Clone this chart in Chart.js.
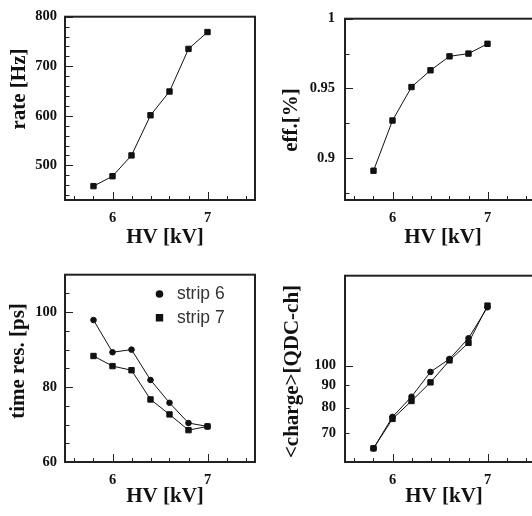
<!DOCTYPE html>
<html>
<head>
<meta charset="utf-8">
<script src="https://cdn.jsdelivr.net/npm/chart.js@4.4.1/dist/chart.umd.min.js"></script>
<style>
  html, body { margin: 0; padding: 0; background: #fff; overflow: hidden; width: 532px; height: 516px; }
  canvas { position: absolute; }
</style>
</head>
<body>
<canvas id="rateChart" width="266" height="258" style="left:0;top:0"></canvas>
<canvas id="effChart" width="280" height="258" style="left:266px;top:0"></canvas>
<canvas id="timeChart" width="266" height="258" style="left:0;top:258px"></canvas>
<canvas id="chargeChart" width="280" height="258" style="left:266px;top:258px"></canvas>
<script>
// --- datos ---
const hv = [5.8, 6.0, 6.2, 6.4, 6.6, 6.8, 7.0];
const rate = [458, 478, 520, 601, 649, 735, 769];
const eff = [0.891, 0.927, 0.951, 0.963, 0.973, 0.975, 0.982];
const timeStrip6 = [97.9, 89.3, 90.0, 81.9, 75.8, 70.4, 69.5];
const timeStrip7 = [88.3, 85.6, 84.5, 76.7, 72.7, 68.5, 69.5];
const chargeStrip6 = [64.5, 76.2, 84.8, 96.7, 103.6, 115.6, 136.2];
const chargeStrip7 = [64.5, 75.4, 82.9, 91.5, 102.8, 112.8, 137.4];

// marcas de los ejes
const hvLabels = [6, 7];
const hvMinor = [5.6, 5.8, 6.2, 6.4, 6.6, 6.8, 7.2, 7.4];
const rateLabels = [500, 600, 700, 800];
const rateMinor = [440, 460, 480, 520, 540, 560, 580, 620, 640, 660, 680, 720, 740, 760, 780];
const effLabels = [0.9, 0.95, 1];
const effMinor = [0.875, 0.925, 0.975];
const timeLabels = [60, 80, 100];
const timeMinor = [65, 70, 75, 85, 90, 95, 105];
const chargeLabels = [70, 80, 90, 100];
const chargeMajor = [100];
const chargeMinor = [70, 80, 90];

const ink = '#111';
const tickFont = { family: '"Liberation Serif", serif', weight: 'bold', size: 14.5 };

// Marco tipo ROOT: caja, marcas hacia dentro, titulos y leyenda
const rootFrame = {
  id: 'rootFrame',
  afterDraw(chart, args, opts) {
    const ctx = chart.ctx;
    const a = chart.chartArea;
    const xs = chart.scales.x;
    const ys = chart.scales.y;
    ctx.save();
    ctx.strokeStyle = '#222';
    ctx.lineWidth = 1;
    ctx.beginPath();
    const tickX = (v, len) => {
      const px = Math.round(xs.getPixelForValue(v)) + 0.5;
      ctx.moveTo(px, a.bottom); ctx.lineTo(px, a.bottom - len);
    };
    const tickY = (v, len) => {
      const py = Math.round(ys.getPixelForValue(v)) + 0.5;
      ctx.moveTo(a.left, py); ctx.lineTo(a.left + len, py);
    };
    hvLabels.forEach(v => tickX(v, 8));
    hvMinor.forEach(v => tickX(v, 4));
    opts.yMajor.forEach(v => tickY(v, 8));
    opts.yMinor.forEach(v => tickY(v, 4.5));
    ctx.stroke();

    ctx.lineWidth = 2;
    ctx.strokeRect(a.left, a.top, a.right - a.left, a.bottom - a.top);

    ctx.fillStyle = ink;
    ctx.font = 'bold 21px "Liberation Serif", serif';
    ctx.textAlign = 'center';
    ctx.textBaseline = 'middle';
    ctx.fillText('HV [kV]', opts.xTitle[0], opts.xTitle[1]);
    ctx.save();
    ctx.translate(opts.yTitlePos[0], opts.yTitlePos[1]);
    ctx.rotate(-Math.PI / 2);
    ctx.fillText(opts.yTitle, 0, 0);
    ctx.restore();

    if (opts.legend) {
      const L = opts.legend;
      ctx.font = '17.5px "Liberation Sans", sans-serif';
      ctx.textAlign = 'left';
      chart.data.datasets.forEach((ds, i) => {
        const y = L.y + i * L.dy;
        ctx.fillStyle = ink;
        ctx.strokeStyle = ink;
        Chart.helpers.drawPoint(ctx, {
          pointStyle: ds.pointStyle, radius: ds.pointRadius, rotation: 0, borderWidth: 1
        }, L.x, y);
        ctx.fillStyle = '#333';
        ctx.fillText(ds.label, L.textX, y);
      });
    }
    ctx.restore();
  }
};

function serie(label, values, style) {
  return {
    label: label,
    data: hv.map((x, i) => ({ x: x, y: values[i] })),
    borderColor: ink,
    backgroundColor: ink,
    borderWidth: 1,
    pointStyle: style,
    pointRadius: style === 'rect' ? 3.8 : 2.8,
    pointBorderWidth: 1,
    tension: 0
  };
}

function panel(id, cfg) {
  const canvas = document.getElementById(id);
  return new Chart(canvas.getContext('2d'), {
    type: 'line',
    data: { datasets: cfg.datasets },
    options: {
      responsive: false,
      animation: false,
      layout: { padding: { left: 0, right: cfg.padRight, top: cfg.padTop, bottom: 0 } },
      plugins: {
        legend: { display: false },
        tooltip: { enabled: false },
        rootFrame: cfg.frame
      },
      scales: {
        x: {
          type: 'linear', min: 5.5, max: 7.5,
          grid: { display: false, drawTicks: false },
          border: { display: false },
          ticks: { font: tickFont, color: ink, padding: 10, autoSkip: false, maxRotation: 0,
                   callback: v => String(v) },
          afterBuildTicks: s => { s.ticks = hvLabels.map(v => ({ value: v })); },
          afterFit: s => { s.height = cfg.xHeight; }
        },
        y: {
          type: cfg.yType, min: cfg.yMin, max: cfg.yMax,
          grid: { display: false, drawTicks: false },
          border: { display: false },
          ticks: { font: tickFont, color: ink, padding: cfg.yPad, autoSkip: false,
                   callback: v => String(v) },
          afterBuildTicks: s => { s.ticks = cfg.yLabels.map(v => ({ value: v })); },
          afterFit: s => { s.width = cfg.yWidth; }
        }
      }
    },
    plugins: [rootFrame]
  });
}

panel('rateChart', {
  datasets: [serie('rate', rate, 'rect')],
  yType: 'linear', yMin: 430, yMax: 800, yLabels: rateLabels,
  yWidth: 65, xHeight: 58, padTop: 12, padRight: 11, yPad: 8,
  frame: { yMajor: rateLabels, yMinor: rateMinor, yTitle: 'rate [Hz]',
           xTitle: [165, 238], yTitlePos: [19.5, 89] }
});

panel('effChart', {
  datasets: [serie('eff', eff, 'rect')],
  yType: 'linear', yMin: 0.87, yMax: 1, yLabels: effLabels,
  yWidth: 79, xHeight: 58, padTop: 12, padRight: 11, yPad: 10,
  frame: { yMajor: effLabels, yMinor: effMinor, yTitle: 'eff.[%]',
           xTitle: [177, 238], yTitlePos: [26, 120] }
});

panel('timeChart', {
  datasets: [serie('strip 6', timeStrip6, 'circle'), serie('strip 7', timeStrip7, 'rect')],
  yType: 'linear', yMin: 60, yMax: 110, yLabels: timeLabels,
  yWidth: 65, xHeight: 54, padTop: 16, padRight: 11, yPad: 8,
  frame: { yMajor: timeLabels, yMinor: timeMinor, yTitle: 'time res. [ps]',
           xTitle: [165, 239], yTitlePos: [19, 103],
           legend: { x: 159.5, y: 36, dy: 23.7, textX: 177 } }
});

panel('chargeChart', {
  datasets: [serie('strip 6', chargeStrip6, 'circle'), serie('strip 7', chargeStrip7, 'rect')],
  yType: 'logarithmic', yMin: 60, yMax: 161, yLabels: chargeLabels,
  yWidth: 79, xHeight: 54, padTop: 16, padRight: 11, yPad: 9,
  frame: { yMajor: chargeMajor, yMinor: chargeMinor, yTitle: '<charge>[QDC-ch]',
           xTitle: [178, 239], yTitlePos: [27, 113.5] }
});
</script>
</body>
</html>
